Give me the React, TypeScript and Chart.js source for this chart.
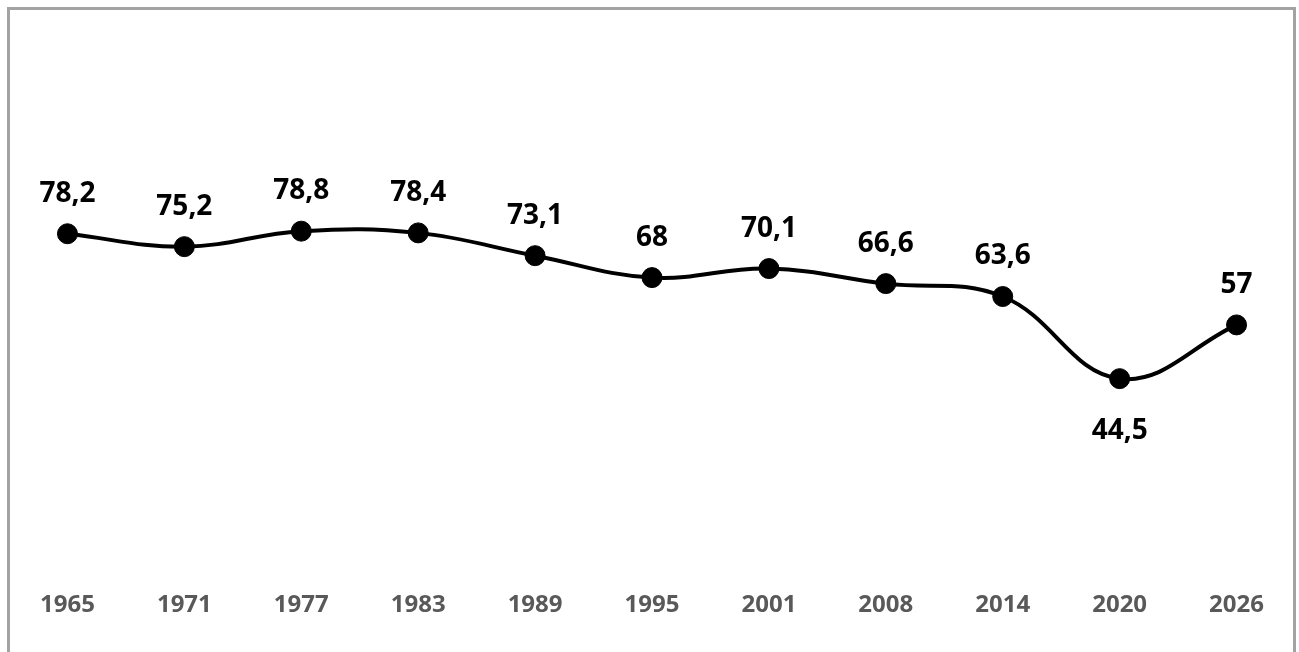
import React, { useEffect, useRef } from "react";
import { Chart, registerables } from "chart.js";

Chart.register(...registerables);

const YEARS = ["1965", "1971", "1977", "1983", "1989", "1995", "2001", "2008", "2014", "2020", "2026"];
const VALUES = [78.2, 75.2, 78.8, 78.4, 73.1, 68, 70.1, 66.6, 63.6, 44.5, 57];
const LABELS_BELOW = ["2020"];

const FONT = "'Open Sans', 'DejaVu Sans', sans-serif";

const valueLabelPlugin = {
  id: "valueLabels",
  afterDatasetsDraw(chart: any) {
    const ctx = chart.ctx;
    const meta = chart.getDatasetMeta(0);
    ctx.save();
    ctx.font = `bold 28px ${FONT}`;
    ctx.fillStyle = "#000000";
    ctx.textAlign = "center";
    ctx.textBaseline = "middle";
    meta.data.forEach((pt: any, i: number) => {
      const v = VALUES[i];
      const txt = String(v).replace(".", ",");
      const below = LABELS_BELOW.includes(YEARS[i]);
      const y = below ? pt.y + 52 : pt.y - 40;
      ctx.fillText(txt, pt.x, y);
    });
    ctx.restore();
  },
};

export default function App() {
  const ref = useRef<HTMLCanvasElement | null>(null);

  useEffect(() => {
    if (!ref.current) return;
    const chart = new Chart(ref.current, {
      type: "line",
      data: {
        labels: YEARS,
        datasets: [
          {
            data: VALUES,
            borderColor: "#000000",
            borderWidth: 4,
            backgroundColor: "#000000",
            pointBackgroundColor: "#000000",
            pointBorderColor: "#000000",
            pointBorderWidth: 1,
            pointRadius: 10,
            tension: 0.4,
            fill: false,
          },
        ],
      },
      options: {
        animation: false,
        responsive: true,
        maintainAspectRatio: false,
        layout: { padding: { top: 140, left: 0, right: 0, bottom: 0 } },
        plugins: {
          legend: { display: false },
          tooltip: { enabled: false },
          title: { display: false },
        },
        scales: {
          x: {
            offset: true,
            grid: { display: false, drawTicks: true, tickLength: 21 },
            border: { display: false },
            ticks: {
              color: "#595959",
              padding: 0,
              font: { family: FONT, size: 24, weight: "bold" },
              maxRotation: 0,
              autoSkip: false,
            },
            afterFit: (scale: any) => {
              scale.height = 82;
            },
          },
          y: {
            display: false,
            min: 0,
            max: 100,
          },
        },
      },
      plugins: [valueLabelPlugin],
    });
    return () => chart.destroy();
  }, []);

  return (
    <>
      <div style={{ position: "fixed", left: -2.5, top: 0, width: 1308, height: 652, background: "#ffffff" }}>
        <canvas ref={ref} />
      </div>
      <div
        style={{
          position: "fixed",
          left: 7,
          top: 7,
          width: 1289,
          height: 720,
          boxSizing: "border-box",
          border: "3px solid #a3a3a3",
          pointerEvents: "none",
        }}
      />
    </>
  );
}
